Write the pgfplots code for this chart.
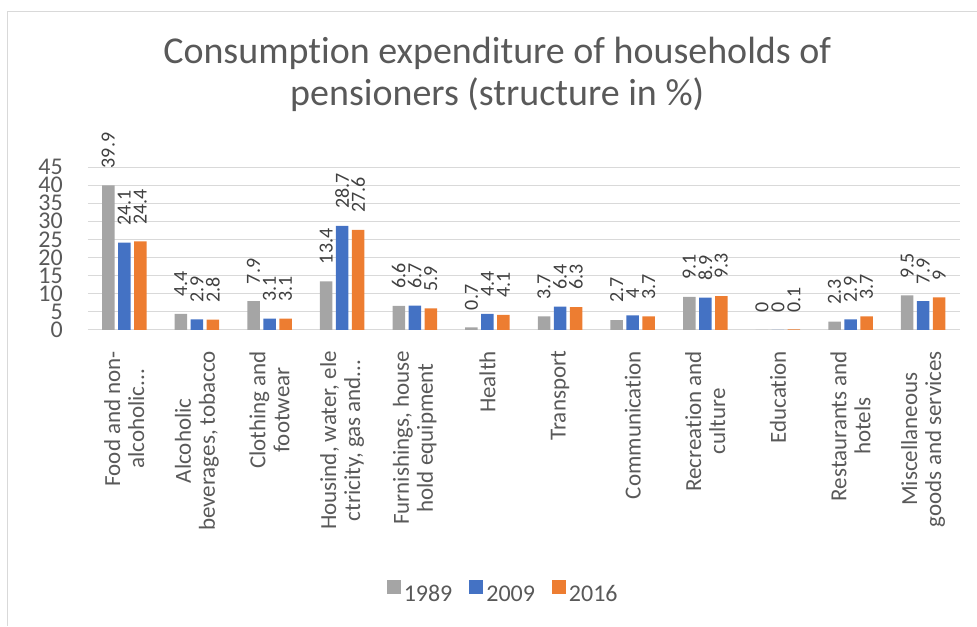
\documentclass[border=0pt]{standalone}
\usepackage{fontspec}
\setmainfont{Carlito}[Ligatures=NoCommon]
\usepackage{pgfplots}
\pgfplotsset{compat=1.18}
\definecolor{cgray}{HTML}{A5A5A5}
\definecolor{cblue}{HTML}{4472C4}
\definecolor{corange}{HTML}{ED7D31}
\definecolor{ctext}{HTML}{595959}
\definecolor{cval}{HTML}{404040}
\definecolor{cgrid}{HTML}{D9D9D9}
\begin{document}
\begin{tikzpicture}
\path (-88pt,-296pt) rectangle (889pt,330pt);
\draw[cgrid, line width=1pt] (-80pt,-296pt) -- (-80pt,318pt) -- (889pt,318pt);
\begin{axis}[
  at={(0pt,0pt)}, anchor=south west,
  scale only axis, width=872pt, height=163pt,
  ybar=3.5pt, bar width=12.5pt,
  xmin=-0.5, xmax=11.5, ymin=0, ymax=45,
  ytick={0,5,10,15,20,25,30,35,40,45},
  xtick={0,1,2,3,4,5,6,7,8,9,10,11},
  xticklabels={{Food and non-\\alcoholic{.}{.}{.}},{Alcoholic\\beverages, tobacco},{Clothing and\\footwear},{Housind, water, ele\\ctricity, gas and{.}{.}{.}},{Furnishings, house\\hold equipment},{Health},{Transport},{Communication},{Recreation and\\culture},{Education},{Restaurants and\\hotels},{Miscellaneous\\goods and services}},
  ymajorgrids, grid style={cgrid, line width=0.8pt},
  axis line style={draw=none},
  major tick length=0pt,
  clip=false,
  /pgf/number format/assume math mode=true,
  yticklabel style={font=\fontsize{24}{24}\selectfont, text=ctext, anchor=east, inner sep=0pt, xshift=-25pt},
  xticklabel style={yshift=-21pt, rotate=90, anchor=east, align=center, inner sep=0pt, font=\fontsize{23}{24}\selectfont, text=ctext},
  nodes near coords,
  nodes near coords style={font=\fontsize{20}{20}\selectfont, text=cval, yshift=17pt, rotate=90, anchor=west, inner sep=0pt},
  title={Consumption expenditure of households of\\pensioners (structure in \%)},
  title style={at={(0.4696,1)}, anchor=base, yshift=55pt, align=center, font=\fontsize{38}{42}\selectfont, text=ctext},
  legend columns=3,
  legend style={at={(0.477,-1.613)}, anchor=center, draw=none, fill=none, font=\fontsize{24}{24}\selectfont, text=ctext, nodes={inner xsep=3pt}, /tikz/every even column/.append style={column sep=14pt}},
  legend image code/.code={\fill[#1] (0pt,0pt) rectangle (14pt,14pt);},
]
\addplot[fill=cgray, draw=none] coordinates {(0,39.9)(1,4.4)(2,7.9)(3,13.4)(4,6.6)(5,0.7)(6,3.7)(7,2.7)(8,9.1)(9,0)(10,2.3)(11,9.5)};
\addplot[fill=cblue, draw=none] coordinates {(0,24.1)(1,2.9)(2,3.1)(3,28.7)(4,6.7)(5,4.4)(6,6.4)(7,4)(8,8.9)(9,0)(10,2.9)(11,7.9)};
\addplot[fill=corange, draw=none] coordinates {(0,24.4)(1,2.8)(2,3.1)(3,27.6)(4,5.9)(5,4.1)(6,6.3)(7,3.7)(8,9.3)(9,0.1)(10,3.7)(11,9)};
\legend{1989,2009,2016}
\end{axis}
\end{tikzpicture}
\end{document}
